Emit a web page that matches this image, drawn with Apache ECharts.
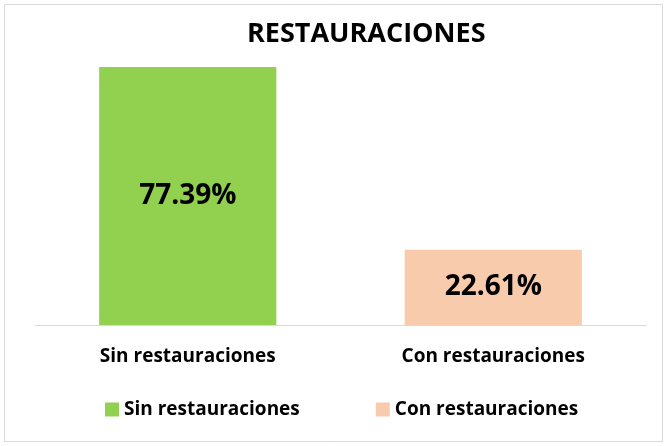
<!DOCTYPE html>
<html>
<head>
<meta charset="utf-8">
<script src="https://cdn.jsdelivr.net/npm/echarts@6/dist/echarts.min.js"></script>
<style>
    html, body { margin: 0; padding: 0; background: #ffffff; }
    #chart { width: 667px; height: 446px; }
</style>
</head>
<body>
<div id="chart"></div>
<script>
    // datos
    var categorias = ['Sin restauraciones', 'Con restauraciones'];
    var valores = [77.39, 22.61];
    var colores = ['#92d050', '#f8cbad'];

    var chart = echarts.init(document.getElementById('chart'));
    var fuente = 'Open Sans';

    var option = {
        backgroundColor: '#ffffff',
        animation: false,
        title: {
            text: 'RESTAURACIONES',
            left: 242,
            top: 16,
            textStyle: { fontFamily: fuente, fontWeight: 'bold', fontSize: 27, color: '#000' }
        },
        graphic: [{
            type: 'rect',
            shape: { x: 4.5, y: 4.5, width: 658, height: 437 },
            style: { fill: 'none', stroke: '#d9d9d9', lineWidth: 1 },
            silent: true
        }],
        legend: {
            bottom: 22,
            left: 100,
            itemWidth: 14,
            itemHeight: 14,
            itemGap: 76,
            icon: 'rect',
            textStyle: { fontFamily: fuente, fontWeight: 'bold', fontSize: 19, color: '#000' },
            data: categorias
        },
        grid: { left: 35, right: 21, top: 25, bottom: 121 },
        xAxis: {
            type: 'category',
            data: categorias,
            axisLine: { lineStyle: { color: '#d9d9d9', width: 1 } },
            axisTick: { show: false },
            axisLabel: { margin: 22, fontFamily: fuente, fontWeight: 'bold', fontSize: 19, color: '#000' }
        },
        yAxis: {
            type: 'value',
            min: 0,
            max: 90,
            interval: 10,
            show: false,
            splitLine: { show: false }
        },
        series: categorias.map(function (c, i) {
            var d = categorias.map(function () { return null; });
            d[i] = valores[i];
            return {
                name: c,
                type: 'bar',
                stack: 'x',
                barWidth: '58%',
                itemStyle: { color: colores[i] },
                label: {
                    show: true,
                    position: 'inside',
                    formatter: function (p) { return p.value.toFixed(2) + '%'; },
                    fontFamily: fuente,
                    fontWeight: 'bold',
                    fontSize: 28,
                    color: '#000'
                },
                data: d
            };
        })
    };
    chart.setOption(option);
</script>
</body>
</html>
